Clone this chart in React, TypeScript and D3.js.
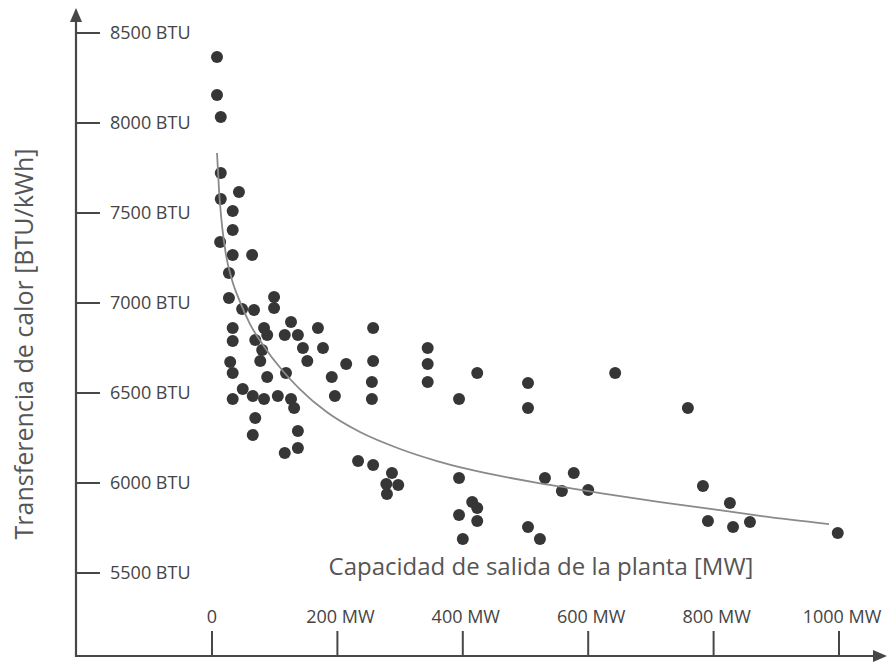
import React from "react";
import * as d3 from "d3";

// Scatter data: plant output capacity (MW) and heat rate (BTU/kWh)
const capacityMW = [
  8, 8, 14, 14, 43, 14, 33, 33, 13, 33, 64, 27, 27, 48, 67, 99, 99, 126, 33, 83,
  88, 116, 137, 169, 257, 33, 69, 80, 145, 177, 344, 29, 77, 152, 214, 257, 344, 33, 118, 88,
  191, 255, 344, 423, 49, 33, 65, 83, 105, 126, 131, 196, 255, 394, 504, 504, 643, 759, 69, 65,
  137, 137, 116, 233, 257, 287, 278, 297, 279, 394, 415, 423, 394, 423, 400, 504, 523, 531, 558, 577,
  600, 783, 826, 791, 831, 858, 998,
];
const heatRateBTU = [
  8367, 8156, 8033, 7722, 7617, 7578, 7511, 7406, 7339, 7267, 7267, 7167, 7028, 6967, 6961, 7033, 6972, 6894, 6861, 6861,
  6822, 6822, 6822, 6861, 6861, 6789, 6794, 6739, 6750, 6750, 6750, 6672, 6678, 6678, 6661, 6678, 6661, 6611, 6611, 6589,
  6589, 6561, 6561, 6611, 6522, 6467, 6483, 6467, 6483, 6467, 6417, 6483, 6467, 6467, 6556, 6417, 6611, 6417, 6361, 6267,
  6289, 6194, 6167, 6122, 6100, 6056, 5994, 5989, 5939, 6028, 5894, 5861, 5822, 5789, 5689, 5756, 5689, 6028, 5956, 6056,
  5961, 5983, 5889, 5789, 5756, 5783, 5722,
];

// Trend curve
const trendMW = [8, 11.2, 15.9, 22.3, 31.9, 44.7, 60.6, 81.3, 113, 140, 183, 236, 300, 359, 407, 539, 619, 715, 821, 874, 984];
const trendBTU = [7833, 7628, 7433, 7267, 7128, 7006, 6883, 6767, 6622, 6522, 6394, 6283, 6189, 6122, 6078, 5989, 5944, 5894, 5844, 5817, 5772];

// Axis ticks
const xTickValues = [0, 200, 400, 600, 800, 1000];
const xTickLabels = ["0", "200 MW", "400 MW", "600 MW", "800 MW", "1000 MW"];
const yTickValues = [5500, 6000, 6500, 7000, 7500, 8000, 8500];
const yTickLabels = ["5500 BTU", "6000 BTU", "6500 BTU", "7000 BTU", "7500 BTU", "8000 BTU", "8500 BTU"];

const xTitle = "Capacidad de salida de la planta [MW]";
const yTitle = "Transferencia de calor [BTU/kWh]";

export default function App() {
  const width = 891;
  const height = 664;
  const axisX = 76;
  const axisY = 656;

  const x = d3.scaleLinear().domain([0, 1000]).range([212, 839]);
  const y = d3.scaleLinear().domain([5500, 8500]).range([573, 33]);

  const trend = trendMW.map((m, i) => [m, trendBTU[i]] as [number, number]);
  const line = d3
    .line<[number, number]>()
    .x((d) => x(d[0]))
    .y((d) => y(d[1]))
    .curve(d3.curveMonotoneX);

  const axisColor = "#474747";
  const font = "'Open Sans', sans-serif";

  return (
    <svg
      width={width}
      height={height}
      style={{ position: "absolute", left: 0, top: 0, background: "#fff" }}
    >
      <rect x={0} y={0} width={width} height={height} fill="#fff" />

      {/* Y axis */}
      <line x1={axisX} y1={18} x2={axisX} y2={axisY + 1} stroke={axisColor} strokeWidth={2.2} />
      <path d={`M${axisX},8 L${axisX - 6},22 L${axisX + 6},22 Z`} fill={axisColor} />
      {yTickValues.map((v, i) => (
        <g key={"yt" + v}>
          <line x1={axisX} x2={axisX + 24} y1={y(v)} y2={y(v)} stroke={axisColor} strokeWidth={2} />
          <text
            x={110}
            y={y(v)}
            dy="0.35em"
            fontFamily={font}
            fontSize={18}
            fill="#444"
          >
            {yTickLabels[i]}
          </text>
        </g>
      ))}

      {/* X axis */}
      <line x1={axisX - 1} y1={axisY} x2={876} y2={axisY} stroke={axisColor} strokeWidth={2.2} />
      <path d={`M887,${axisY} L873,${axisY - 6} L873,${axisY + 6} Z`} fill={axisColor} />
      {xTickValues.map((v, i) => (
        <g key={"xt" + v}>
          <line x1={x(v)} x2={x(v)} y1={631} y2={axisY} stroke={axisColor} strokeWidth={2} />
          <text
            x={x(v) + (v === 0 ? 0 : 3)}
            y={623}
            textAnchor="middle"
            fontFamily={font}
            fontSize={18}
            fill="#444"
          >
            {xTickLabels[i]}
          </text>
        </g>
      ))}

      {/* Titles */}
      <text
        x={541}
        y={575}
        textAnchor="middle"
        fontFamily={font}
        fontSize={24}
        fill="#555"
      >
        {xTitle}
      </text>
      <text
        transform="translate(33,344) rotate(-90)"
        textAnchor="middle"
        fontFamily={font}
        fontSize={25}
        fill="#555"
      >
        {yTitle}
      </text>

      {/* Points */}
      {capacityMW.map((m, i) => (
        <circle key={"p" + i} cx={x(m)} cy={y(heatRateBTU[i])} r={6} fill="#363636" />
      ))}

      {/* Trend curve */}
      <path d={line(trend) || ""} fill="none" stroke="#8a8a8a" strokeWidth={1.8} />
    </svg>
  );
}
